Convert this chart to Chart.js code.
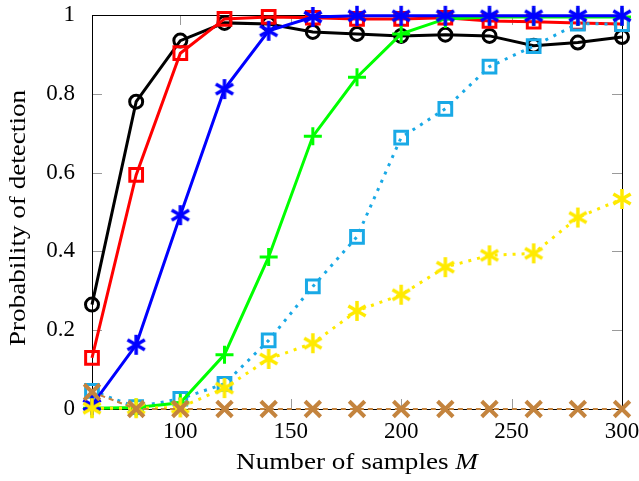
<!DOCTYPE html>
<html>
<head>
<meta charset="utf-8">
<script src="https://cdn.jsdelivr.net/npm/chart.js@4"></script>
<style>
  html, body { margin: 0; padding: 0; background: #fff; }
  #wrap { width: 639px; height: 481px; }
</style>
</head>
<body>
<div id="wrap"><canvas id="chart"></canvas></div>
<script>
const samples = [60, 80, 100, 120, 140, 160, 180, 200, 220, 240, 260, 280, 300]
const blackSeries = [0.265, 0.78, 0.935, 0.98, 0.977, 0.957, 0.952, 0.947, 0.95, 0.947, 0.922, 0.93, 0.944]
const redSeries = [0.13, 0.594, 0.903, 0.99, 0.995, 0.993, 0.99, 0.99, 0.993, 0.985, 0.983, 0.98, 0.977]
const blueSeries = [0.01, 0.163, 0.492, 0.812, 0.96, 0.995, 0.998, 0.998, 0.998, 0.998, 0.998, 0.998, 0.998]
const greenSeries = [0.002, 0.004, 0.016, 0.138, 0.386, 0.692, 0.842, 0.952, 0.99, 0.995, 0.995, 0.995, 0.995]
const cyanSeries = [0.046, 0.005, 0.026, 0.064, 0.174, 0.311, 0.437, 0.689, 0.762, 0.869, 0.921, 0.978, 0.977]
const yellowSeries = [0.002, 0.002, 0.004, 0.053, 0.127, 0.167, 0.249, 0.29, 0.36, 0.39, 0.395, 0.486, 0.533]
const brownSeries = [0.043, 0, 0, 0, 0, 0, 0, 0, 0, 0, 0, 0, 0]

const xTicks = [100, 150, 200, 250, 300]
const yTicks = [0, 0.2, 0.4, 0.6, 0.8, 1]

const FONT = "'Liberation Serif', serif"
const FONT_SIZE = 23
const TITLE_SIZE = 24

// pgfplots-like six-spoke asterisk marker
function asterisk(color, size, lw) {
  const c = document.createElement('canvas')
  c.width = size
  c.height = size
  const g = c.getContext('2d')
  g.strokeStyle = color
  g.lineWidth = lw
  const r = size / 2 - 1
  const m = size / 2
  for (let k = 0; k < 3; k++) {
    const a = Math.PI / 2 + k * Math.PI / 3
    g.beginPath()
    g.moveTo(m - r * Math.cos(a), m - r * Math.sin(a))
    g.lineTo(m + r * Math.cos(a), m + r * Math.sin(a))
    g.stroke()
  }
  return c
}

function pts(values) {
  return values.map((v, i) => ({ x: samples[i], y: v }))
}

// the TeX font is wider than Liberation Serif, so titles get stretched a bit
const STRETCH = 1.13

const frame = {
  id: 'frame',
  beforeDatasetsDraw(chart) {
    const { ctx, chartArea: a, scales } = chart
    ctx.save()
    ctx.strokeStyle = '#9a9a9a'
    ctx.lineWidth = 1
    const len = 10
    ctx.beginPath()
    for (const t of xTicks) {
      const x = Math.round(scales.x.getPixelForValue(t)) + 0.5
      ctx.moveTo(x, a.bottom)
      ctx.lineTo(x, a.bottom - len)
      ctx.moveTo(x, a.top)
      ctx.lineTo(x, a.top + len)
    }
    for (const t of yTicks) {
      const y = Math.round(scales.y.getPixelForValue(t)) + 0.5
      ctx.moveTo(a.left, y)
      ctx.lineTo(a.left + len, y)
      ctx.moveTo(a.right, y)
      ctx.lineTo(a.right - len, y)
    }
    ctx.stroke()
    ctx.strokeStyle = '#000'
    ctx.strokeRect(Math.round(a.left) + 0.5, Math.round(a.top) + 0.5,
      Math.round(a.right - a.left), Math.round(a.bottom - a.top))
    ctx.restore()
  },
  afterDraw(chart) {
    const { ctx, chartArea: a } = chart
    ctx.save()
    ctx.fillStyle = '#000'
    ctx.textBaseline = 'middle'
    // x title with italic M
    const regular = TITLE_SIZE + 'px ' + FONT
    const italic = 'italic ' + TITLE_SIZE + 'px ' + FONT
    const part1 = 'Number of samples '
    ctx.font = regular
    const w1 = ctx.measureText(part1).width
    ctx.font = italic
    const w2 = ctx.measureText('M').width
    const cx = (a.left + a.right) / 2
    ctx.save()
    ctx.translate(cx, 463)
    ctx.scale(STRETCH, 1)
    const x0 = -(w1 + w2) / 2
    ctx.textAlign = 'left'
    ctx.font = regular
    ctx.fillText(part1, x0, 0)
    ctx.font = italic
    ctx.fillText('M', x0 + w1, 0)
    ctx.restore()
    // y title
    ctx.font = regular
    ctx.textAlign = 'center'
    ctx.translate(19, 218)
    ctx.rotate(-Math.PI / 2)
    ctx.scale(STRETCH, 1)
    ctx.fillText('Probability of detection', 0, 0)
    ctx.restore()
  }
}

const lineBase = {
  borderWidth: 3,
  pointBorderWidth: 3,
  pointBackgroundColor: 'rgba(0,0,0,0)',
  tension: 0,
  clip: false,
  fill: false,
}

const datasets = [
  { ...lineBase, label: 'brown', data: pts(brownSeries), borderColor: '#c4843e', pointBorderColor: '#c4843e',
    borderWidth: 2, borderDash: [5, 4], pointStyle: 'crossRot', pointRadius: 11, pointBorderWidth: 4, order: 1 },
  { ...lineBase, label: 'yellow', data: pts(yellowSeries), borderColor: '#ffea00',
    borderDash: [3, 6], pointStyle: asterisk('#ffea00', 22, 3.5), order: 2 },
  { ...lineBase, label: 'blue', data: pts(blueSeries), borderColor: '#0000ff',
    pointStyle: asterisk('#0000ff', 22, 3.5), order: 3 },
  { ...lineBase, label: 'green', data: pts(greenSeries), borderColor: '#00ff00', pointBorderColor: '#00ff00',
    pointStyle: 'cross', pointRadius: 9, order: 4 },
  { ...lineBase, label: 'cyan', data: pts(cyanSeries), borderColor: '#19a9e6', pointBorderColor: '#19a9e6',
    borderDash: [3, 6], pointStyle: 'rect', pointRadius: 9, order: 5 },
  { ...lineBase, label: 'red', data: pts(redSeries), borderColor: '#ff0000', pointBorderColor: '#ff0000',
    pointStyle: 'rect', pointRadius: 9, order: 6 },
  { ...lineBase, label: 'black', data: pts(blackSeries), borderColor: '#000000', pointBorderColor: '#000000',
    pointStyle: 'circle', pointRadius: 6.5, order: 7 },
]

new Chart(document.getElementById('chart'), {
  type: 'line',
  data: { datasets },
  plugins: [frame],
  options: {
    responsive: true,
    maintainAspectRatio: false,
    animation: false,
    parsing: false,
    layout: { padding: { left: 0, right: 17, top: 13, bottom: 0 } },
    plugins: {
      legend: { display: false },
      tooltip: { enabled: false },
    },
    scales: {
      x: {
        type: 'linear',
        min: 60,
        max: 300,
        grid: { display: false },
        border: { display: false },
        afterBuildTicks(scale) { scale.ticks = xTicks.map(v => ({ value: v })) },
        afterFit(scale) {
          scale.height = 72
          scale.paddingLeft = 0
          scale.paddingRight = 0
        },
        ticks: {
          color: '#000',
          padding: 1,
          maxRotation: 0,
          font: { family: FONT, size: FONT_SIZE },
        },
      },
      y: {
        type: 'linear',
        min: 0,
        max: 1,
        grid: { display: false },
        border: { display: false },
        afterBuildTicks(scale) { scale.ticks = yTicks.map(v => ({ value: v })) },
        afterFit(scale) {
          scale.width = 92
          scale.paddingTop = 0
          scale.paddingBottom = 0
        },
        ticks: {
          color: '#000',
          padding: 9,
          font: { family: FONT, size: FONT_SIZE },
          callback: v => String(v),
        },
      },
    },
  },
})
</script>
</body>
</html>
